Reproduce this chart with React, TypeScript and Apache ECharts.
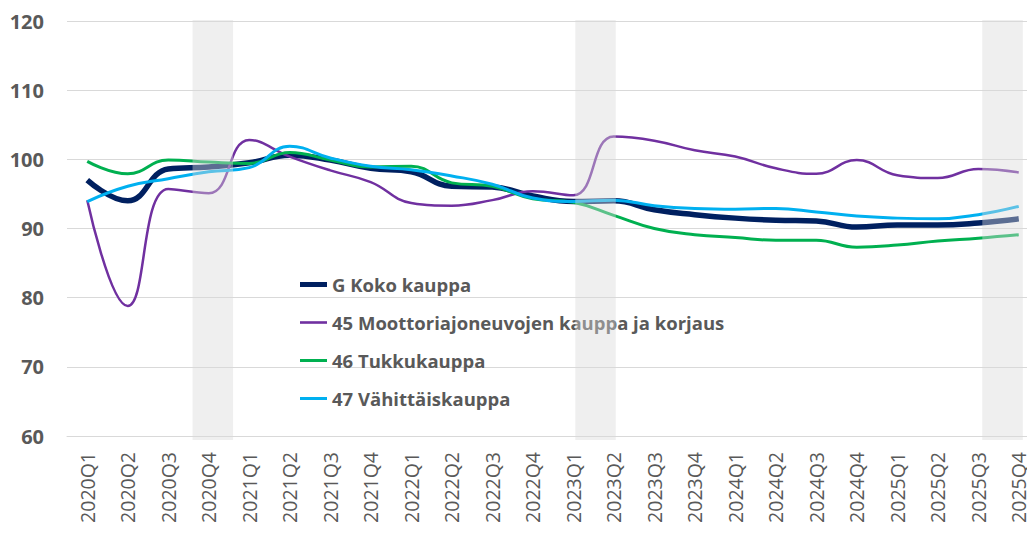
import React, { useEffect, useRef } from "react";
import * as echarts from "echarts";

const quarters = [
  "2020Q1", "2020Q2", "2020Q3", "2020Q4",
  "2021Q1", "2021Q2", "2021Q3", "2021Q4",
  "2022Q1", "2022Q2", "2022Q3", "2022Q4",
  "2023Q1", "2023Q2", "2023Q3", "2023Q4",
  "2024Q1", "2024Q2", "2024Q3", "2024Q4",
  "2025Q1", "2025Q2", "2025Q3", "2025Q4",
];

const kokoKauppa = [
  97.0, 94.0, 98.6, 98.9, 99.5, 100.6, 99.9, 98.7,
  98.2, 96.1, 96.0, 94.7, 93.9, 94.0, 92.7, 92.0,
  91.5, 91.2, 91.1, 90.2, 90.5, 90.5, 90.8, 91.4,
];

const moottoriajoneuvot = [
  94.1, 78.8, 95.7, 95.1, 102.8, 100.4, 98.4, 96.7,
  93.7, 93.3, 94.1, 95.4, 94.8, 103.3, 102.7, 101.3,
  100.4, 98.7, 97.9, 99.9, 97.7, 97.3, 98.6, 98.1,
];

const tukkukauppa = [
  99.7, 97.9, 99.9, 99.6, 99.4, 101.0, 99.9, 98.9,
  99.0, 96.6, 96.1, 94.3, 93.8, 91.9, 90.0, 89.1,
  88.7, 88.3, 88.3, 87.3, 87.6, 88.2, 88.6, 89.1,
];

const vahittaiskauppa = [
  93.9, 96.1, 97.2, 98.2, 98.8, 101.9, 100.2, 99.0,
  98.5, 97.6, 96.4, 94.4, 93.9, 94.1, 93.3, 92.9,
  92.8, 92.9, 92.4, 91.8, 91.5, 91.4, 92.0, 93.2,
];

const seriesNames = [
  "G Koko kauppa",
  "45 Moottoriajoneuvojen kauppa ja korjaus",
  "46 Tukkukauppa",
  "47 Vähittäiskauppa",
];

// shaded periods, in category-width units from the left edge of the axis
const bandStarts = [3.1, 12.55, 22.6];
const bandEnds = [4.1, 13.55, 23.6];

const yMin = 60;
const yMax = 120;
const yStep = 10;

export default function App() {
  const ref = useRef<HTMLDivElement>(null);

  useEffect(() => {
    if (!ref.current) return;
    const chart = echarts.init(ref.current, null, { renderer: "svg" });
    const font = "'Open Sans', 'Noto Sans', sans-serif";
    const grey = "#595959";
    const gridColor = "#D9D9D9";

    const styles = [
      { color: "#002060", width: 5.5, icon: "path://M0,0 M27,14 M0,4.5 L27,4.5 L27,9.5 L0,9.5 Z" },
      { color: "#7030A0", width: 2.5, icon: "path://M0,0 M27,14 M0,5.7 L27,5.7 L27,8.3 L0,8.3 Z" },
      { color: "#00B050", width: 3, icon: "path://M0,0 M27,14 M0,5.5 L27,5.5 L27,8.5 L0,8.5 Z" },
      { color: "#00B0F0", width: 3, icon: "path://M0,0 M27,14 M0,5.5 L27,5.5 L27,8.5 L0,8.5 Z" },
    ];
    const values = [kokoKauppa, moottoriajoneuvot, tukkukauppa, vahittaiskauppa];

    const lineSeries = seriesNames.map((name, i) => ({
      name,
      type: "line",
      data: values[i],
      smooth: 0.45,
      symbol: "none",
      showSymbol: false,
      color: styles[i].color,
      lineStyle: { color: styles[i].color, width: styles[i].width },
      z: 2,
    }));

    const bandSeries = {
      name: "bands",
      type: "custom",
      xAxisIndex: 1,
      yAxisIndex: 0,
      silent: true,
      z: 10,
      clip: false,
      data: bandStarts.map((s, i) => [s, bandEnds[i]]),
      renderItem: (params: any, api: any) => {
        const p0 = api.coord([api.value(0), yMax]);
        const p1 = api.coord([api.value(1), yMin]);
        return {
          type: "rect",
          shape: { x: p0[0], y: p0[1] - 1, width: p1[0] - p0[0], height: p1[1] - p0[1] + 5 },
          style: { fill: "rgba(217,217,217,0.42)" },
        };
      },
    };

    chart.setOption({
      animation: false,
      backgroundColor: "#ffffff",
      textStyle: { fontFamily: font },
      grid: { left: 67, right: 1, top: 21, bottom: 97, containLabel: false },
      legend: {
        data: seriesNames.map((name, i) => ({
          name,
          icon: styles[i].icon,
          itemStyle: { color: styles[i].color },
        })),
        orient: "vertical",
        left: 295,
        top: 270,
        itemWidth: 27,
        itemHeight: 14,
        itemGap: 19,
        textStyle: {
          color: grey,
          fontSize: 18.5,
          fontWeight: "bold",
          fontFamily: font,
        },
      },
      xAxis: [
        {
          type: "category",
          data: quarters,
          boundaryGap: true,
          axisLine: { show: true, lineStyle: { color: gridColor, width: 1 } },
          axisTick: { show: false },
          splitLine: { show: false },
          axisLabel: {
            rotate: 90,
            margin: 16,
            color: grey,
            fontSize: 19.5,
            lineHeight: 16,
            fontFamily: font,
            interval: 0,
          },
        },
        {
          type: "value",
          min: 0,
          max: quarters.length,
          show: false,
        },
      ],
      yAxis: {
        type: "value",
        min: yMin,
        max: yMax,
        interval: yStep,
        axisLine: { show: false },
        axisTick: { show: false },
        splitLine: { show: true, lineStyle: { color: gridColor, width: 1 } },
        axisLabel: {
          margin: 23,
          color: grey,
          fontSize: 20,
          fontWeight: "bold",
          fontFamily: font,
        },
      },
      series: [...lineSeries, bandSeries],
    });

    return () => chart.dispose();
  }, []);

  return (
    <div
      style={{
        position: "fixed",
        left: 0,
        top: 0,
        width: 1027,
        height: 533,
        overflow: "hidden",
        background: "#ffffff",
      }}
    >
      <div ref={ref} style={{ width: 1040, height: 533 }} />
    </div>
  );
}
